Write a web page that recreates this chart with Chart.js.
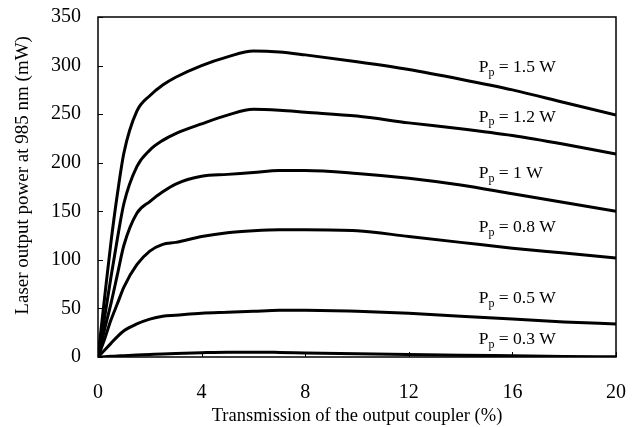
<!DOCTYPE html>
<html>
<head>
    <title>Laser output power vs output coupler transmission</title>
    <script src="https://cdn.jsdelivr.net/npm/chart.js"></script>
    <style>
        html, body {
            margin: 0;
            padding: 0;
            background: #ffffff;
        }
        #wrap {
            width: 639px;
            height: 427px;
        }
    </style>
</head>
<body>
    <div id="wrap">
        <canvas id="powerChart" width="639" height="427"></canvas>
    </div>

    <script>
        // Transmission of the output coupler (%)
        const transmission = [0, 0.25, 0.5, 0.75, 1, 1.5, 2, 2.5, 3, 4, 5, 6, 7, 8, 10, 12, 14, 16, 18, 20];

        // Output power (mW) for each pump power
        const power15 = [0, 60, 118, 168, 210, 253, 269, 280, 288, 300, 309, 315, 314, 311, 304, 296, 286, 275, 262, 249];
        const power12 = [0, 40, 82, 122, 158, 196, 213, 223, 230, 240, 249, 255, 254, 252, 248, 241, 235, 228, 219, 209];
        const power10 = [0, 28, 55, 85, 115, 148, 160, 170, 178, 186, 188, 190, 192, 192, 189, 184, 177, 168, 159, 150];
        const power08 = [0, 18, 38, 55, 72, 95, 109, 116, 118, 124, 128, 130, 131, 131, 130, 124, 118, 112, 107, 102];
        const power05 = [0, 7, 14, 21, 27, 34, 39, 42, 43, 45, 46, 47, 48, 48, 47, 45, 42, 39, 36, 34];
        const power03 = [0, 0.3, 0.7, 1, 1.4, 2, 2.6, 3.2, 3.7, 4.5, 5, 5, 4.7, 4.2, 3.3, 2.5, 1.8, 1.2, 0.6, 0.2];

        const pumpLabels = ['1.5 W', '1.2 W', '1 W', '0.8 W', '0.5 W', '0.3 W'];
        const allSeries = [power15, power12, power10, power08, power05, power03];

        // where each curve label sits (x in %, y in mW)
        const labelX = 14.7;
        const labelY = [298, 247, 189, 133, 60, 18];

        const xTicks = [0, 4, 8, 12, 16, 20];
        const yTitle = 'Laser output power at 985 nm (mW)';

        const serif = "'Liberation Serif', 'Times New Roman', serif";

        // keep the plot box where the reference has it
        function noOverflow(scale) {
            scale.paddingTop = 0;
            scale.paddingBottom = 0;
            scale.paddingLeft = 0;
            scale.paddingRight = 0;
        }

        // frame, inward tick marks, y title and curve labels
        const decorations = {
            id: 'decorations',
            afterDatasetsDraw(chart) {
                const { ctx, chartArea, scales } = chart;
                ctx.save();
                ctx.strokeStyle = '#000';
                ctx.lineWidth = 1.5;
                ctx.strokeRect(chartArea.left, chartArea.top, chartArea.right - chartArea.left, chartArea.bottom - chartArea.top);

                ctx.lineWidth = 1;
                ctx.beginPath();
                scales.y.ticks.forEach(t => {
                    const py = Math.round(scales.y.getPixelForValue(t.value)) + 0.5;
                    ctx.moveTo(chartArea.left, py);
                    ctx.lineTo(chartArea.left + 5, py);
                });
                xTicks.forEach(v => {
                    const px = Math.round(scales.x.getPixelForValue(v)) + 0.5;
                    ctx.moveTo(px, chartArea.bottom);
                    ctx.lineTo(px, chartArea.bottom - 5);
                });
                ctx.stroke();

                ctx.fillStyle = '#000';

                // rotated y axis title, sits a little above the middle
                ctx.save();
                ctx.translate(23, scales.y.getPixelForValue(187));
                ctx.rotate(-Math.PI / 2);
                ctx.textAlign = 'center';
                ctx.textBaseline = 'middle';
                ctx.font = '19px ' + serif;
                ctx.fillText(yTitle, 0, 0);
                ctx.restore();

                ctx.textBaseline = 'middle';
                ctx.textAlign = 'left';
                pumpLabels.forEach((lab, i) => {
                    let px = scales.x.getPixelForValue(labelX);
                    const py = scales.y.getPixelForValue(labelY[i]);
                    ctx.font = '17.5px ' + serif;
                    ctx.fillText('P', px, py);
                    px += ctx.measureText('P').width;
                    ctx.font = '12px ' + serif;
                    ctx.fillText('p', px, py + 5);
                    px += ctx.measureText('p').width;
                    ctx.font = '17.5px ' + serif;
                    ctx.fillText(' = ' + lab, px, py);
                });
                ctx.restore();
            }
        };

        const datasets = allSeries.map((series, i) => ({
            label: 'Pp = ' + pumpLabels[i],
            data: transmission.map((t, j) => ({ x: t, y: series[j] })),
            borderColor: '#000',
            borderWidth: 3,
            pointRadius: 0,
            fill: false,
            cubicInterpolationMode: 'monotone'
        }));

        new Chart(document.getElementById('powerChart'), {
            type: 'line',
            data: { datasets: datasets },
            options: {
                responsive: false,
                animation: false,
                layout: {
                    padding: { top: 17, right: 23, bottom: 0, left: 0 }
                },
                plugins: {
                    legend: { display: false },
                    tooltip: { enabled: false }
                },
                scales: {
                    x: {
                        type: 'linear',
                        min: 0,
                        max: 20,
                        afterFit: scale => { scale.height = 70; noOverflow(scale); },
                        afterBuildTicks: scale => {
                            scale.ticks = xTicks.map(v => ({ value: v }));
                        },
                        grid: { display: false, drawTicks: false },
                        border: { display: false },
                        ticks: {
                            color: '#000',
                            padding: 24,
                            font: { family: serif, size: 20 }
                        },
                        title: {
                            display: true,
                            text: 'Transmission of the output coupler (%)',
                            color: '#000',
                            padding: { top: 0, bottom: 0 },
                            font: { family: serif, size: 18.5 }
                        }
                    },
                    y: {
                        min: 0,
                        max: 350,
                        afterFit: scale => { scale.width = 98; noOverflow(scale); },
                        grid: { display: false, drawTicks: false },
                        border: { display: false },
                        ticks: {
                            stepSize: 50,
                            color: '#000',
                            padding: 17,
                            font: { family: serif, size: 20 }
                        }
                    }
                }
            },
            plugins: [decorations]
        });
    </script>
</body>
</html>
